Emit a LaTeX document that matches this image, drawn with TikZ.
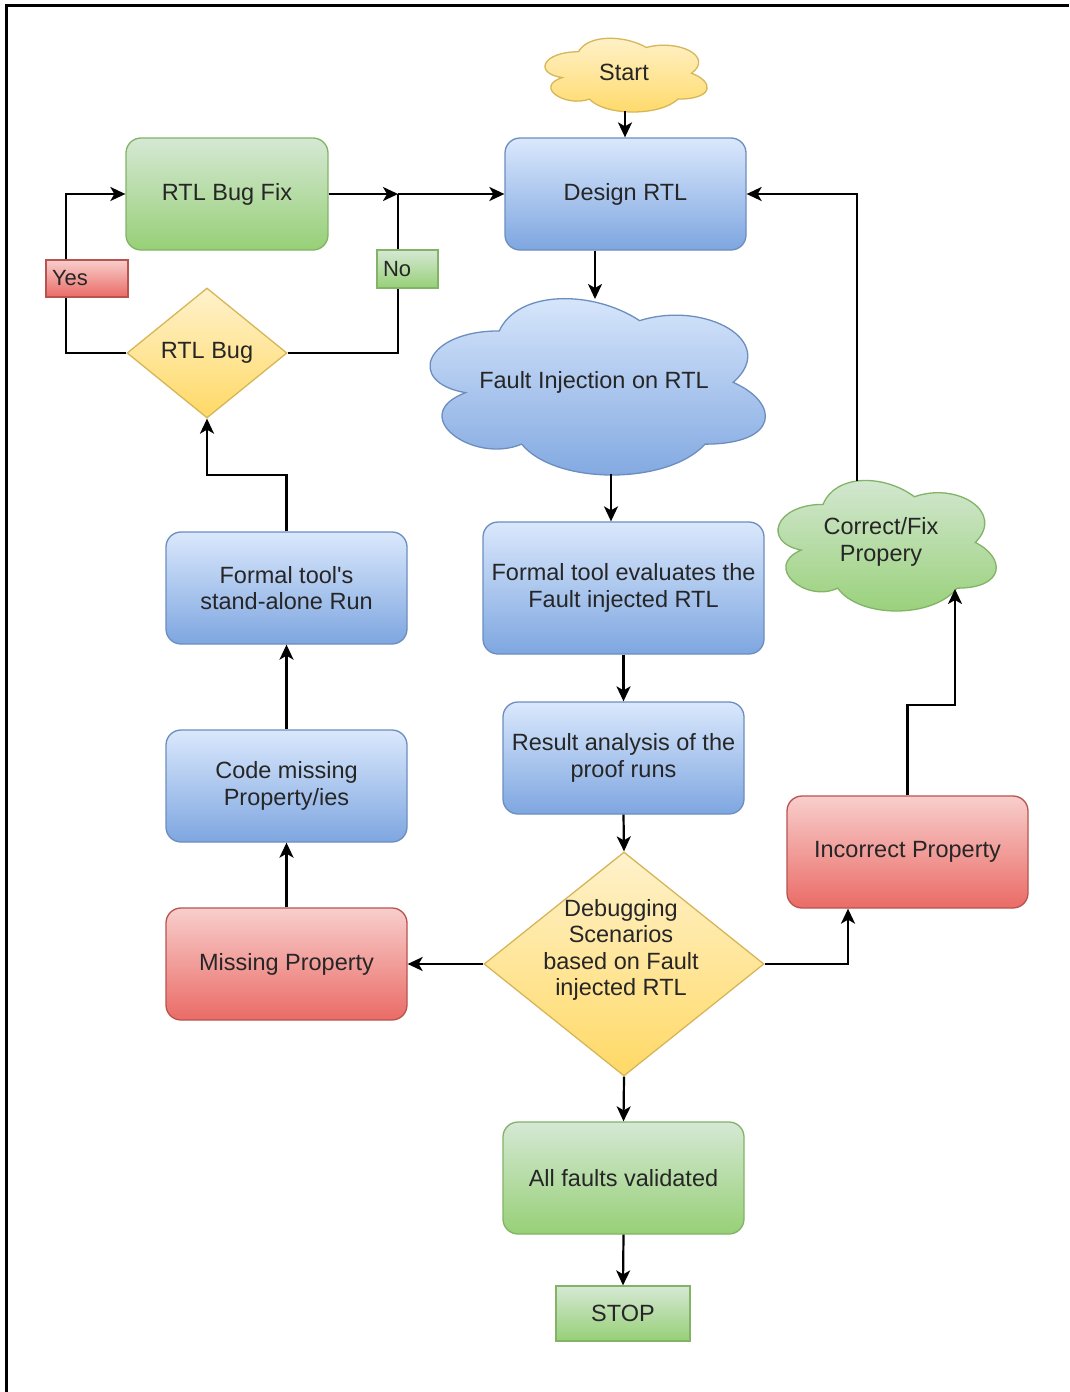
\documentclass[tikz,border=0pt]{standalone}
\usepackage{fontspec}
\setmainfont{Liberation Sans}
\usetikzlibrary{shapes.geometric,arrows.meta,calc}
\definecolor{bluetop}{HTML}{DAE8FC}
\definecolor{bluebot}{HTML}{7EA6E0}
\definecolor{bluest}{HTML}{6C8EBF}
\definecolor{greentop}{HTML}{D5E8D4}
\definecolor{greenbot}{HTML}{97D077}
\definecolor{greenst}{HTML}{82B366}
\definecolor{redtop}{HTML}{F8CECC}
\definecolor{redbot}{HTML}{EA6B66}
\definecolor{redst}{HTML}{B85450}
\definecolor{yeltop}{HTML}{FFF2CC}
\definecolor{yelbot}{HTML}{FFD966}
\definecolor{yelst}{HTML}{D6B656}
\definecolor{txtc}{HTML}{262626}

\newcommand{\mycloudshape}[5]{%
  \pgfmathsetmacro\cw{(#3-#2)/0.895}%
  \pgfmathsetmacro\ch{(#5-#4)/0.86}%
  \pgfmathsetmacro\cx{#2-0.065*\cw}%
  \pgfmathsetmacro\cy{#4-0.09*\ch}%
  \path[#1] (\cx+0.25*\cw,\cy+0.25*\ch)
    .. controls (\cx+0.05*\cw,\cy+0.25*\ch) and (\cx,\cy+0.5*\ch) .. (\cx+0.16*\cw,\cy+0.55*\ch)
    .. controls (\cx,\cy+0.66*\ch) and (\cx+0.18*\cw,\cy+0.9*\ch) .. (\cx+0.31*\cw,\cy+0.8*\ch)
    .. controls (\cx+0.4*\cw,\cy+\ch) and (\cx+0.7*\cw,\cy+\ch) .. (\cx+0.8*\cw,\cy+0.8*\ch)
    .. controls (\cx+\cw,\cy+0.8*\ch) and (\cx+\cw,\cy+0.6*\ch) .. (\cx+0.875*\cw,\cy+0.5*\ch)
    .. controls (\cx+\cw,\cy+0.3*\ch) and (\cx+0.8*\cw,\cy+0.1*\ch) .. (\cx+0.625*\cw,\cy+0.2*\ch)
    .. controls (\cx+0.5*\cw,\cy+0.05*\ch) and (\cx+0.3*\cw,\cy+0.05*\ch) .. cycle;%
}

\tikzset{
  base/.style={font=\fontsize{23.5}{26.5}\selectfont, text=txtc, inner sep=2pt, align=center, line width=1.3pt},
  boxshape/.style={base, rounded corners=15pt, minimum width=241pt, minimum height=112pt},
  bluebox/.style={boxshape, draw=bluest, top color=bluetop, bottom color=bluebot},
  greenbox/.style={boxshape, draw=greenst, top color=greentop, bottom color=greenbot},
  redbox/.style={boxshape, draw=redst, top color=redtop, bottom color=redbot},
  yeldiam/.style={base, diamond, draw=yelst, top color=yeltop, bottom color=yelbot},
  lbl/.style={base, font=\fontsize{22}{24}\selectfont, align=left, inner xsep=6pt, inner ysep=0pt},
  txtnode/.style={base},
  conn/.style={line width=2.2pt, draw=black},
  arr/.style={conn, -{Stealth[length=15pt,width=14pt,inset=4pt]}},
  bluecloud/.style={draw=bluest, line width=1.3pt, top color=bluetop, bottom color=bluebot},
  greencloud/.style={draw=greenst, line width=1.3pt, top color=greentop, bottom color=greenbot},
  yelcloud/.style={draw=yelst, line width=1.3pt, top color=yeltop, bottom color=yelbot},
}

\begin{document}
\begin{tikzpicture}[x=1pt,y=-1pt]
\useasboundingbox (0,0) rectangle (1069,1392);
\fill[white] (0,0) rectangle (1069,1392);
\draw[line width=2.5pt] (6.5,1392) -- (6.5,5.5) -- (1069,5.5);

% clouds
\mycloudshape{yelcloud}{545}{707}{38}{112}
\mycloudshape{bluecloud}{430}{765}{298}{475}
\mycloudshape{greencloud}{778}{996}{480}{611}
\node[txtnode] (start) at (624,72) {Start};
\node[txtnode] (fault) at (594,382) {Fault Injection on RTL};
\node[txtnode] (correct) at (881,542) {Correct/Fix\\Propery};
\coordinate (startS) at (625,111);
\coordinate (faultN) at (595,299);
\coordinate (faultS) at (611,474);
\coordinate (correctN) at (857,481);
\coordinate (correctS) at (955,589);

% boxes
\node[bluebox] (design) at (625.5,194) {Design RTL};
\node[greenbox, minimum width=202pt] (bugfix) at (227,194) {RTL Bug Fix};
\node[yeldiam, minimum width=160pt, minimum height=130pt] (rtlbug) at (207,353) {RTL Bug};
\node[bluebox, minimum width=281pt, minimum height=132pt] (feval) at (623.5,588) {Formal tool evaluates the\\Fault injected RTL};
\node[bluebox] (fstand) at (286.5,588) {Formal tool\textquotesingle s\\stand-alone Run};
\node[bluebox] (result) at (623.5,758) {Result analysis of the\\proof runs};
\node[bluebox] (code) at (286.5,786) {Code missing\\Property/ies};
\node[redbox] (incorrect) at (907.5,852) {Incorrect Property};
\node[redbox] (missing) at (286.5,964) {Missing Property};
\node[yeldiam, minimum width=280pt, minimum height=224pt] (dbg) at (624,964) {};
\node[txtnode] (dbgtext) at (621,950) {Debugging\\Scenarios\\based on Fault\\injected RTL};
\node[greenbox] (allf) at (623.5,1178) {All faults validated};
\node[boxshape, rounded corners=0pt, draw=greenst, top color=greentop, bottom color=greenbot, minimum width=134pt, minimum height=55pt] (stop) at (623,1313.5) {STOP};

% connectors
\coordinate (junc) at (398,194);
\draw[arr] (startS) -- (design.north -| startS);
\draw[arr] (bugfix.east) -- (junc);
\draw[arr] (junc) -- (design.west);
\draw[conn] (rtlbug.east) -- (junc |- rtlbug.east) -- (junc);
\draw[arr] (rtlbug.west) -- ++(-60,0) |- (bugfix.west);
\draw[arr] (design.south -| faultN) -- (faultN);
\draw[arr] (faultS) -- (feval.north -| faultS);
\draw[arr] (feval.south) -- (result.north);
\draw[arr] (result.south) -- (dbg.north);
\draw[arr] (dbg.west) -- (missing.east);
\draw[arr] (dbg.east) -| ([xshift=-59.5pt]incorrect.south);
\draw[arr] (dbg.south) -- (allf.north);
\draw[arr] (allf.south) -- (stop.north);
\draw[arr] (missing.north) -- (code.south);
\draw[arr] (code.north) -- (fstand.south);
\draw[arr] (fstand.north) -- ++(0,-56) -| (rtlbug.south);
\draw[arr] (incorrect.north) -- ++(0,-90) -| (correctS);
\draw[arr] (correctN) |- (design.east);

% branch labels
\node[lbl, draw=redst, top color=redtop, bottom color=redbot, text width=70pt, minimum height=37pt] (yes) at (87,278.5) {Yes};
\node[lbl, draw=greenst, top color=greentop, bottom color=greenbot, text width=49pt, minimum height=38pt] (no) at (407.5,269) {No};
\end{tikzpicture}
\end{document}
